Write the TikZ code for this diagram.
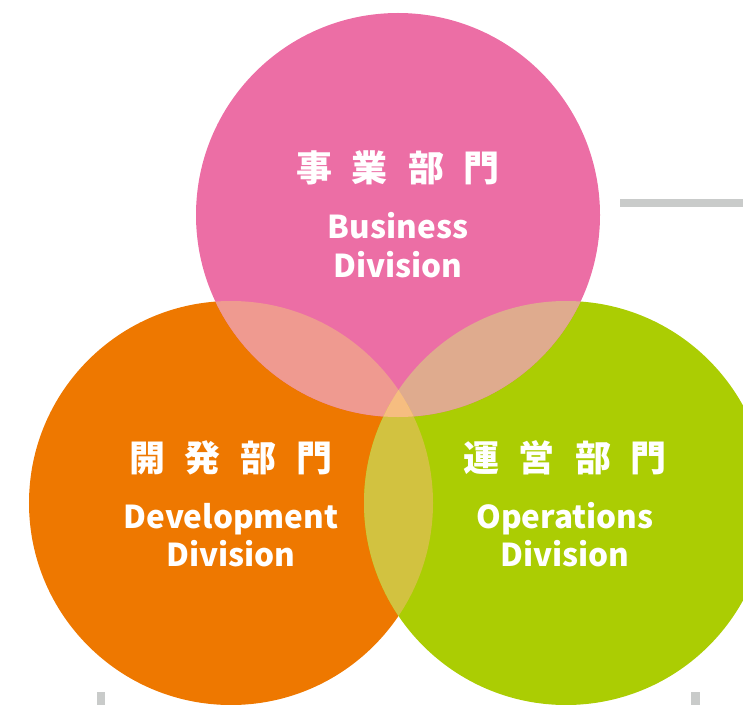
\documentclass[tikz,border=0pt]{standalone}
\usepackage{fontspec}
\newfontfamily\cjk{Noto Sans CJK JP}
\definecolor{bizpink}{HTML}{EC6EA5}
\definecolor{devorange}{HTML}{EE7800}
\definecolor{opsgreen}{HTML}{ABCD03}
\definecolor{pinkorange}{HTML}{EF9A90}
\definecolor{pinkgreen}{HTML}{DFAB8E}
\definecolor{orangegreen}{HTML}{D2C240}
\definecolor{allthree}{HTML}{F6BD80}
\definecolor{rulegray}{HTML}{C9CBCA}
\newcommand{\jsp}{\kern20bp}

\begin{document}
\begin{tikzpicture}[x=1bp,y=-1bp,
    jp/.style={text=white,inner sep=0pt,font=\cjk\bfseries\fontsize{36bp}{36bp}\selectfont},
    en/.style={text=white,inner sep=0pt,anchor=base,font=\cjk\bfseries\fontsize{31.5bp}{39bp}\selectfont}]
    \useasboundingbox (0,0) rectangle (743,705);
    \coordinate (biz) at (398,215);
    \coordinate (dev) at (231,503);
    \coordinate (ops) at (566,503);
    % gray rules
    \fill[rulegray] (620,199) rectangle (743,207);
    \fill[rulegray] (97,692) rectangle (105,705);
    \fill[rulegray] (691,692) rectangle (700,705);
    % circles
    \fill[devorange] (dev) circle[radius=202bp];
    \fill[opsgreen] (ops) circle[radius=202bp];
    \fill[bizpink] (biz) circle[radius=202bp];
    % overlaps
    \begin{scope}
        \clip (biz) circle[radius=202bp];
        \fill[pinkorange] (dev) circle[radius=202bp];
        \fill[pinkgreen] (ops) circle[radius=202bp];
        \clip (dev) circle[radius=202bp];
        \fill[allthree] (ops) circle[radius=202bp];
    \end{scope}
    \begin{scope}
        \clip (dev) circle[radius=202bp];
        \clip (ops) circle[radius=202bp];
        \fill[orangegreen] (dev) ++(0,-100) rectangle ++(400,400);
        \clip (biz) circle[radius=202bp];
        \fill[allthree] (dev) ++(0,-100) rectangle ++(400,400);
    \end{scope}
    % labels
    \node[jp] (bizjp) at (398,168) {事\jsp 業\jsp 部\jsp 門};
    \node[en] (bizen1) at (398,238) {Business};
    \node[en] (bizen2) at (398,277) {Division};
    \node[jp] (devjp) at (231,458) {開\jsp 発\jsp 部\jsp 門};
    \node[en] (deven1) at (231,528) {Development};
    \node[en] (deven2) at (231,566) {Division};
    \node[jp] (opsjp) at (565,458) {運\jsp 営\jsp 部\jsp 門};
    \node[en] (opsen1) at (565,528) {Operations};
    \node[en] (opsen2) at (565,566) {Division};
\end{tikzpicture}
\end{document}
